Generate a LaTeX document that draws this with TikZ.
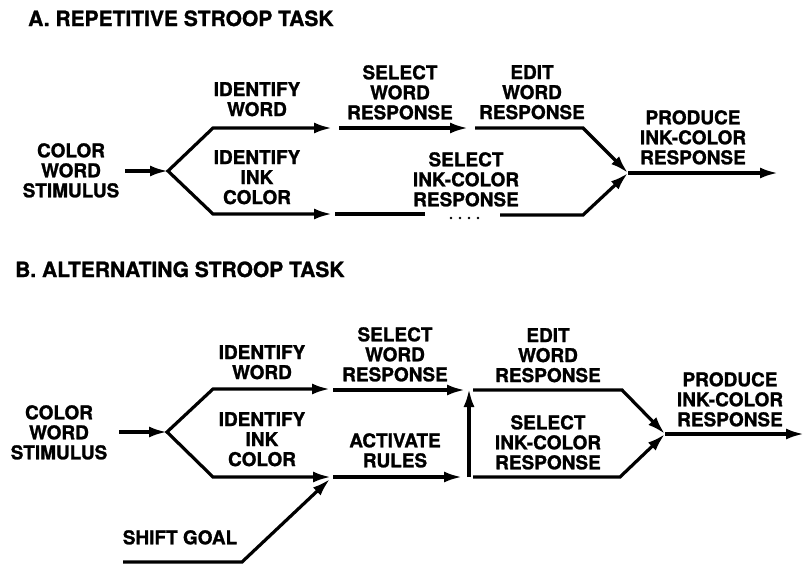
\documentclass[tikz,border=0pt]{standalone}
\usepackage{fontspec}
\setmainfont{TeX Gyre Heros}[BoldFeatures={FakeBold=1.2}]
\usetikzlibrary{arrows.meta}
\begin{document}
\begin{tikzpicture}[x=1pt,y=-1pt,
  lbl/.style={font=\bfseries\fontsize{19}{20}\selectfont, align=center, inner sep=0pt, anchor=north},
  ttl/.style={font=\bfseries\fontsize{21}{24}\selectfont, inner sep=0pt, anchor=base west},
  ln/.style={line width=3.2pt},
  arr/.style={ln, -{Latex[length=18pt,width=11pt]}},
  darr/.style={ln, {Latex[length=18pt,width=11pt]}-{Latex[length=18pt,width=11pt]}},
  dots/.style={line width=2.6pt, dash pattern=on 0pt off 9pt, line cap=round}
]
\useasboundingbox (0,0) rectangle (805,565);

% titles
\node[ttl] (tA) at (28,26) {A. REPETITIVE STROOP TASK};
\node[ttl] (tB) at (15,277) {B. ALTERNATING STROOP TASK};

% ---------- Panel A labels
\node[lbl] (stimA) at (71,143) {COLOR\\WORD\\STIMULUS};
\node[lbl] (idwA) at (257,82) {IDENTIFY\\WORD};
\node[lbl] (idiA) at (257,150) {IDENTIFY\\INK\\COLOR};
\node[lbl] (swrA) at (400,65) {SELECT\\WORD\\RESPONSE};
\node[lbl] (ewrA) at (532,65) {EDIT\\WORD\\RESPONSE};
\node[lbl] (sicA) at (466,152) {SELECT\\INK-COLOR\\RESPONSE};
\node[lbl] (prodA) at (693,110) {PRODUCE\\INK-COLOR\\RESPONSE};

% ---------- Panel A connectors
\coordinate (a0) at (125,171);
\coordinate (fA) at (168,171);
\coordinate (aU1) at (213,128);
\coordinate (aU2) at (332,128);
\coordinate (aU3) at (339,128);
\coordinate (aU4) at (468,128);
\coordinate (aU5) at (475,128);
\coordinate (aU6) at (583,128);
\coordinate (jA) at (628,173);
\coordinate (aL1) at (213,214);
\coordinate (aL2) at (332,214);
\coordinate (aL3) at (335,214);
\coordinate (aL4) at (425,214);
\coordinate (aD1) at (451,218);
\coordinate (aD2) at (479,218);
\coordinate (aL5) at (500,215);
\coordinate (aL6) at (583,215);
\coordinate (aOut) at (778,173);

\draw[arr] (a0) -- (fA);
\draw[darr] (aU2) -- (aU1) -- (fA) -- (aL1) -- (aL2);
\draw[arr] (aU3) -- (aU4);
\draw[arr] (aU5) -- (aU6) -- (jA);
\draw[ln] (aL3) -- (aL4);
\draw[dots] (aD1) -- (aD2);
\draw[arr] (aL5) -- (aL6) -- (jA);
\draw[arr] (jA) -- (aOut);

% ---------- Panel B labels
\node[lbl] (stimB) at (59,405) {COLOR\\WORD\\STIMULUS};
\node[lbl] (idwB) at (262,345) {IDENTIFY\\WORD};
\node[lbl] (idiB) at (262,412) {IDENTIFY\\INK\\COLOR};
\node[lbl] (swrB) at (395,327) {SELECT\\WORD\\RESPONSE};
\node[lbl] (ewrB) at (548,328) {EDIT\\WORD\\RESPONSE};
\node[lbl] (actB) at (395,433) {ACTIVATE\\RULES};
\node[lbl] (sicB) at (548,415) {SELECT\\INK-COLOR\\RESPONSE};
\node[lbl] (prodB) at (730,372) {PRODUCE\\INK-COLOR\\RESPONSE};
\node[lbl] (shift) at (180,530) {SHIFT GOAL};

% ---------- Panel B connectors
\coordinate (b0) at (119,432);
\coordinate (fB) at (167,432);
\coordinate (bU1) at (213,389);
\coordinate (bU2) at (330,389);
\coordinate (bU3) at (333,390);
\coordinate (bU4) at (465,390);
\coordinate (bV1) at (469,477);
\coordinate (bV2) at (469,389);
\coordinate (bU5) at (473,390);
\coordinate (bU6) at (622,390);
\coordinate (jB) at (665,434);
\coordinate (bL1) at (213,477);
\coordinate (bL2) at (331,477);
\coordinate (bL3) at (333,477);
\coordinate (bL4) at (462,477);
\coordinate (bL5) at (473,477);
\coordinate (bL6) at (620,477);
\coordinate (bOut) at (804,434);
\coordinate (sg1) at (123,562);
\coordinate (sg2) at (242,562);
\coordinate (sg3) at (330,479);

\draw[arr] (b0) -- (fB);
\draw[darr] (bU2) -- (bU1) -- (fB) -- (bL1) -- (bL2);
\draw[arr] (bU3) -- (bU4);
\draw[arr] (bV1) -- (bV2);
\draw[arr] (bU5) -- (bU6) -- (jB);
\draw[arr] (bL3) -- (bL4);
\draw[arr] (bL5) -- (bL6) -- (jB);
\draw[arr] (jB) -- (bOut);
\draw[arr] (sg1) -- (sg2) -- (sg3);
\end{tikzpicture}
\end{document}
